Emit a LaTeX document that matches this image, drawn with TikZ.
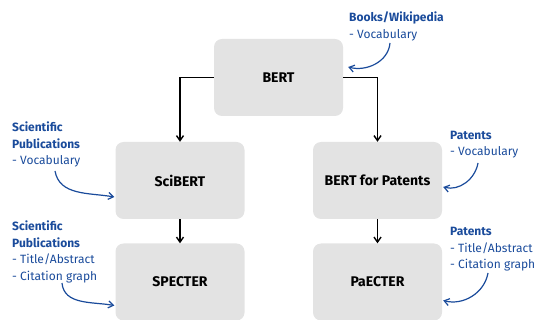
\documentclass[tikz,border=0pt]{standalone}
\usepackage{fontspec}
\setmainfont{Fira Sans}
\usetikzlibrary{arrows.meta}
\definecolor{noteblue}{HTML}{1A4B9B}
\definecolor{boxgrey}{HTML}{E3E3E3}
\tikzset{
  modelbox/.style={rectangle, rounded corners=8pt, fill=boxgrey, minimum width=129pt, minimum height=77pt, font=\fontsize{14}{16}\selectfont\bfseries},
  note/.style={anchor=north west, inner sep=0pt, align=left, text=noteblue, font=\fontsize{12}{16.5}\selectfont},
  feed/.style={->, draw=noteblue, line width=1.2pt}
}
\newcommand{\modelnode}[3] {\node at (#1) (#2) [modelbox] {#3};}
\newcommand{\sourcenote}[3] {\node at (#1) (#2) [note] {#3};}
\newcommand{\modelstep}[2] {\draw [->, line width=1.4pt] (#1) -- (#2);}

\begin{document}
\begin{tikzpicture}[x=1pt, y=-1pt, >={Straight Barb[length=5pt,width=7pt]}]
\useasboundingbox (0,0) rectangle (535,320);

\modelnode {278.5, 77.5} {bert} {BERT};
\modelnode {180, 180.5} {scibert} {SciBERT};
\modelnode {180, 282} {specter} {SPECTER};
\modelnode {377.5, 180.5} {bertpat} {BERT for Patents};
\modelnode {377.5, 282} {paecter} {PaECTER};

\draw [->, line width=1.4pt] (bert.west) -| (scibert.north);
\draw [->, line width=1.4pt] (bert.east) -| (bertpat.north);
\modelstep{scibert}{specter};
\modelstep{bertpat}{paecter};

\sourcenote {349, 12} {booksnote} {\textbf{Books/Wikipedia}\\- Vocabulary};
\sourcenote {12, 121.7} {scinote} {\textbf{Scientific}\\\textbf{Publications}\\- Vocabulary};
\sourcenote {12, 221} {scicite} {\textbf{Scientific}\\\textbf{Publications}\\- Title/Abstract\\- Citation graph};
\sourcenote {450, 130.7} {patnote} {\textbf{Patents}\\- Vocabulary};
\sourcenote {450, 227.4} {patcite} {\textbf{Patents}\\- Title/Abstract\\- Citation graph};

% arrows from the data sources
\coordinate (booksfrom) at (390, 43);
\coordinate (scifrom) at (55, 171);
\coordinate (citefrom) at (62, 283);
\coordinate (patfrom) at (478, 163);
\coordinate (patcitefrom) at (488, 273);
\draw [feed] (booksfrom) to [out=-95, in=-15] ([xshift=5pt, yshift=10.5pt]bert.east);
\draw [feed] (scifrom) to [out=-80, in=170] ([xshift=-1pt, yshift=-16.5pt]scibert.west);
\draw [feed] (citefrom) to [out=-85, in=170] ([xshift=-1pt, yshift=-23.5pt]specter.west);
\draw [feed] (patfrom) to [out=-100, in=-15] ([xshift=1pt, yshift=-6.5pt]bertpat.east);
\draw [feed] (patcitefrom) to [out=-100, in=-15] ([xshift=1pt, yshift=-18.5pt]paecter.east);

\end{tikzpicture}
\end{document}
